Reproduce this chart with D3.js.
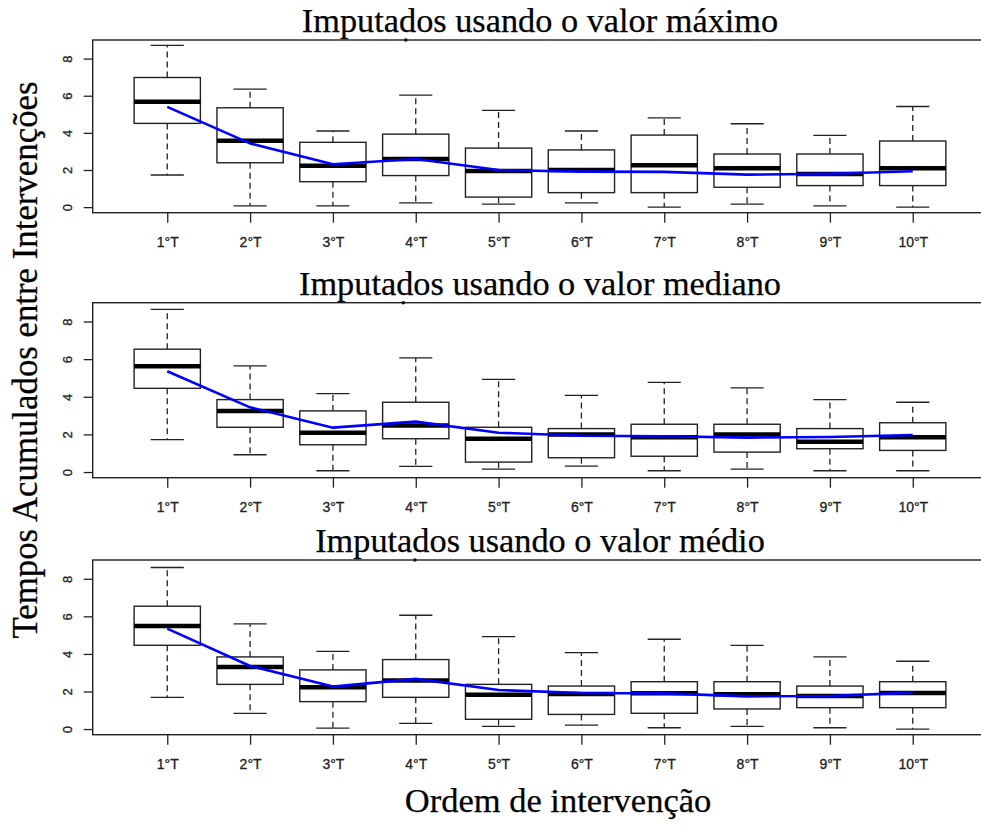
<!DOCTYPE html>
<html>
<head>
<meta charset="utf-8">
<script src="https://cdn.jsdelivr.net/npm/d3@7"></script>
<style>
  html, body { margin: 0; padding: 0; background: #fff; }
  svg { display: block; }
</style>
</head>
<body>
<svg id="chart" width="981" height="826"></svg>
<script>
// ---------------- DATA ----------------
const categories = ["1°T", "2°T", "3°T", "4°T", "5°T", "6°T", "7°T", "8°T", "9°T", "10°T"];
const yTickValues = [0, 2, 4, 6, 8];
const panelTitles = [
  "Imputados usando o valor máximo",
  "Imputados usando o valor mediano",
  "Imputados usando o valor médio"
];
const yAxisTitle = "Tempos Acumulados entre Intervenções";
const xAxisTitle = "Ordem de intervenção";

// Panel 1: valor máximo
const maxLow    = [1.73, 0.07, 0.07, 0.23, 0.16, 0.23, 0.00, 0.16, 0.07, 0.00];
const maxQ1     = [4.51, 2.39, 1.37, 1.70, 0.54, 0.78, 0.78, 1.07, 1.16, 1.16];
const maxMedian = [5.67, 3.58, 2.23, 2.59, 1.95, 2.00, 2.25, 2.09, 1.79, 2.09];
const maxQ3     = [6.98, 5.35, 3.49, 3.93, 3.18, 3.08, 3.88, 2.86, 2.86, 3.56];
const maxHigh   = [8.71, 6.35, 4.10, 6.03, 5.21, 4.10, 4.81, 4.49, 3.86, 5.42];
const maxTrend  = [5.40, 3.43, 2.31, 2.59, 2.00, 1.91, 1.90, 1.75, 1.80, 1.93];

// Panel 2: valor mediano
const medLow    = [1.72, 0.92, 0.07, 0.30, 0.16, 0.32, 0.07, 0.16, 0.07, 0.07];
const medQ1     = [4.45, 2.38, 1.45, 1.77, 0.53, 0.76, 0.84, 1.06, 1.24, 1.15];
const medMedian = [5.62, 3.25, 2.09, 2.48, 1.77, 1.99, 1.85, 1.99, 1.61, 1.85];
const medQ3     = [6.53, 3.85, 3.25, 3.71, 2.38, 2.31, 2.54, 2.54, 2.31, 2.62];
const medHigh   = [8.64, 5.64, 4.17, 6.07, 4.93, 4.08, 4.77, 4.47, 3.85, 3.71];
const medTrend  = [5.36, 3.44, 2.36, 2.68, 2.09, 1.93, 1.90, 1.83, 1.86, 1.97];

// Panel 3: valor médio
const meanLow    = [1.69, 0.84, 0.05, 0.30, 0.14, 0.21, 0.07, 0.14, 0.07, 0.00];
const meanQ1     = [4.46, 2.38, 1.46, 1.69, 0.52, 0.78, 0.84, 1.07, 1.14, 1.14];
const meanMedian = [5.48, 3.31, 2.22, 2.58, 1.83, 1.87, 1.90, 1.85, 1.76, 1.92];
const meanQ3     = [6.54, 3.84, 3.15, 3.70, 2.38, 2.29, 2.52, 2.52, 2.29, 2.52];
const meanHigh   = [8.60, 5.60, 4.14, 6.06, 4.92, 4.07, 4.78, 4.46, 3.84, 3.61];
const meanTrend  = [5.35, 3.36, 2.26, 2.67, 2.08, 1.92, 1.90, 1.74, 1.76, 1.94];

// Outlying points (position on category axis, value)
const outlierPos = [3.88, 3.85, 3.99];
const outlierVal = [9.0, 9.0, 9.0];

// ---------------- LAYOUT ----------------
const panels = [
  { low: maxLow,  q1: maxQ1,  med: maxMedian,  q3: maxQ3,  high: maxHigh,  trend: maxTrend },
  { low: medLow,  q1: medQ1,  med: medMedian,  q3: medQ3,  high: medHigh,  trend: medTrend },
  { low: meanLow, q1: meanQ1, med: meanMedian, q3: meanQ3, high: meanHigh, trend: meanTrend }
];
const panelTop = [40, 302.7, 560];
const panelBottom = [212.7, 477.7, 734.7];
const plotLeft = 92.7, plotRight = 987.3;

const svg = d3.select("#chart");
const serif = "'Liberation Serif', 'Times New Roman', serif";
const sans = "'Liberation Sans', Arial, sans-serif";

const x = d3.scaleLinear().domain([0.1, 10.9]).range([plotLeft, plotRight]);
const unit = x(2) - x(1);
const boxW = 0.8 * unit;
const capW = 0.4 * unit;

panels.forEach((p, pi) => {
  const y = d3.scaleLinear().domain([-0.3, 9.0]).range([panelBottom[pi], panelTop[pi]]);
  const g = svg.append("g");

  // title
  g.append("text")
    .attr("x", (plotLeft + plotRight) / 2)
    .attr("y", panelTop[pi] - 8)
    .attr("text-anchor", "middle")
    .attr("font-family", serif)
    .attr("font-size", 34.3)
    .attr("fill", "#000")
    .attr("stroke", "#000").attr("stroke-width", 0.25)
    .text(panelTitles[pi]);

  // y axis
  const yAxis = d3.axisLeft(y).tickValues(yTickValues).tickSize(9).tickSizeOuter(0).tickFormat(d3.format("d"));
  const ya = g.append("g").attr("transform", `translate(${plotLeft},0)`).call(yAxis);
  ya.select(".domain").remove();
  ya.selectAll(".tick line").attr("stroke", "#222").attr("stroke-width", 1.3);
  ya.selectAll(".tick text")
    .attr("font-family", sans).attr("font-size", 13).attr("fill", "#222")
    .attr("stroke", "#222").attr("stroke-width", 0.3)
    .attr("text-anchor", "middle")
    .attr("x", 0).attr("dy", 0)
    .attr("transform", "translate(-25,0) rotate(-90)")
    .attr("y", 4.5);

  // x axis
  const xAxis = d3.axisBottom(x).tickValues(d3.range(1, 11)).tickSize(10).tickSizeOuter(0)
    .tickFormat((d, i) => categories[i]);
  const xa = g.append("g").attr("transform", `translate(0,${panelBottom[pi]})`).call(xAxis);
  xa.select(".domain").remove();
  xa.selectAll(".tick line").attr("stroke", "#222").attr("stroke-width", 1.3);
  xa.selectAll(".tick text")
    .attr("font-family", sans).attr("font-size", 14).attr("fill", "#222")
    .attr("stroke", "#222").attr("stroke-width", 0.3)
    .attr("dy", 0).attr("y", 34.6);

  const idx = d3.range(categories.length);

  // whiskers (dashed)
  g.selectAll(".wlo").data(idx).join("line")
    .attr("x1", i => x(i + 1)).attr("x2", i => x(i + 1))
    .attr("y1", i => y(p.q1[i])).attr("y2", i => y(p.low[i]))
    .attr("stroke", "#222").attr("stroke-width", 1.3).attr("stroke-dasharray", "6,4");
  g.selectAll(".whi").data(idx).join("line")
    .attr("x1", i => x(i + 1)).attr("x2", i => x(i + 1))
    .attr("y1", i => y(p.q3[i])).attr("y2", i => y(p.high[i]))
    .attr("stroke", "#222").attr("stroke-width", 1.3).attr("stroke-dasharray", "6,4");
  // caps
  g.selectAll(".clo").data(idx).join("line")
    .attr("x1", i => x(i + 1) - capW / 2).attr("x2", i => x(i + 1) + capW / 2)
    .attr("y1", i => y(p.low[i])).attr("y2", i => y(p.low[i]))
    .attr("stroke", "#222").attr("stroke-width", 1.3);
  g.selectAll(".chi").data(idx).join("line")
    .attr("x1", i => x(i + 1) - capW / 2).attr("x2", i => x(i + 1) + capW / 2)
    .attr("y1", i => y(p.high[i])).attr("y2", i => y(p.high[i]))
    .attr("stroke", "#222").attr("stroke-width", 1.3);
  // boxes
  g.selectAll(".box").data(idx).join("rect")
    .attr("x", i => x(i + 1) - boxW / 2).attr("width", boxW)
    .attr("y", i => y(p.q3[i])).attr("height", i => y(p.q1[i]) - y(p.q3[i]))
    .attr("fill", "#fff").attr("stroke", "#222").attr("stroke-width", 1.4);
  // medians
  g.selectAll(".med").data(idx).join("line")
    .attr("x1", i => x(i + 1) - boxW / 2).attr("x2", i => x(i + 1) + boxW / 2)
    .attr("y1", i => y(p.med[i])).attr("y2", i => y(p.med[i]))
    .attr("stroke", "#000").attr("stroke-width", 4.5);

  // trend line
  const line = d3.line().x((d, i) => x(i + 1)).y(d => y(d)).curve(d3.curveLinear);
  g.append("path").datum(p.trend).attr("d", line)
    .attr("fill", "none").attr("stroke", "#0000ff").attr("stroke-width", 2.6)
    .attr("stroke-linejoin", "round");

  // frame
  g.append("rect")
    .attr("x", plotLeft).attr("y", panelTop[pi])
    .attr("width", plotRight - plotLeft).attr("height", panelBottom[pi] - panelTop[pi])
    .attr("fill", "none").attr("stroke", "#222").attr("stroke-width", 1.4);

  // outlier point
  g.append("circle").attr("cx", x(outlierPos[pi])).attr("cy", y(outlierVal[pi]))
    .attr("r", 1.8).attr("fill", "#111");
});

// y axis title
svg.append("text")
  .attr("transform", "translate(37,360) rotate(-90)")
  .attr("text-anchor", "middle")
  .attr("font-family", serif).attr("font-size", 34.8).attr("fill", "#000")
  .attr("stroke", "#000").attr("stroke-width", 0.25)
  .text(yAxisTitle);

// x axis title
svg.append("text")
  .attr("x", 558).attr("y", 812)
  .attr("text-anchor", "middle")
  .attr("font-family", serif).attr("font-size", 34.5).attr("fill", "#000")
  .attr("stroke", "#000").attr("stroke-width", 0.25)
  .text(xAxisTitle);
</script>
</body>
</html>
